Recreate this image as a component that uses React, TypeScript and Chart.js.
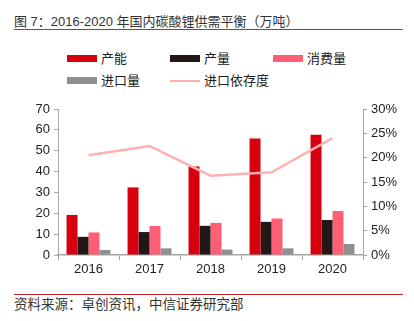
import React, { useEffect, useRef } from "react";
import { Chart, registerables } from "chart.js";

Chart.register(...registerables);

const years = ["2016", "2017", "2018", "2019", "2020"];
const capacity = [19.2, 32.4, 42.4, 55.8, 57.7];
const output = [8.7, 11.0, 14.0, 15.9, 16.8];
const consumption = [10.8, 13.9, 15.4, 17.5, 21.1];
const imports = [2.4, 3.2, 2.6, 3.2, 5.3];
const importRatio = [20.5, 22.4, 16.3, 17.0, 24.0];

const seriesNames = ["产能", "产量", "消费量", "进口量", "进口依存度"];
const seriesColors = ["#d7000f", "#231815", "#ff5f75", "#8f8f8f", "#ffb0b0"];

const leftMax = 70;
const leftStep = 10;
const rightMax = 30;
const rightStep = 5;

const titleText = "图 7：2016-2020 年国内碳酸锂供需平衡（万吨）";
const sourceText = "资料来源：卓创资讯，中信证券研究部";

const FONT = '"Liberation Sans", "Noto Sans CJK SC", Arial, sans-serif';
const AXIS = "#a6a6a6";

export default function App() {
  const ref = useRef<HTMLCanvasElement | null>(null);

  useEffect(() => {
    if (!ref.current) return;
    const barCommon = {
      categoryPercentage: 0.72,
      barPercentage: 1,
      borderWidth: 0,
      yAxisID: "y",
      order: 1,
    };
    const chart = new Chart(ref.current, {
      type: "bar",
      data: {
        labels: years,
        datasets: [
          { ...barCommon, label: seriesNames[0], data: capacity, backgroundColor: seriesColors[0] },
          { ...barCommon, label: seriesNames[1], data: output, backgroundColor: seriesColors[1] },
          { ...barCommon, label: seriesNames[2], data: consumption, backgroundColor: seriesColors[2] },
          { ...barCommon, label: seriesNames[3], data: imports, backgroundColor: seriesColors[3] },
          {
            type: "line",
            label: seriesNames[4],
            data: importRatio,
            yAxisID: "y1",
            borderColor: seriesColors[4],
            backgroundColor: seriesColors[4],
            borderWidth: 2.5,
            pointRadius: 0,
            tension: 0,
            order: 0,
          } as any,
        ],
      },
      options: {
        responsive: false,
        animation: false,
        layout: { padding: { top: 14, left: 0, right: 0, bottom: 0 } },
        plugins: { legend: { display: false }, tooltip: { enabled: false } },
        scales: {
          x: {
            type: "category",
            offset: true,
            grid: {
              display: true,
              offset: true,
              drawOnChartArea: false,
              drawTicks: true,
              tickLength: 5,
              color: AXIS,
            },
            border: { display: true, color: AXIS, width: 1.5 },
            ticks: { color: "#222", font: { family: FONT, size: 13 }, padding: 2 },
            afterFit: (s: any) => {
              s.height = 25;
            },
          },
          y: {
            position: "left",
            min: 0,
            max: leftMax,
            grid: { drawOnChartArea: false, drawTicks: true, tickLength: 4, color: AXIS },
            border: { display: true, color: AXIS, width: 1 },
            ticks: {
              stepSize: leftStep,
              color: "#222",
              font: { family: FONT, size: 13 },
              padding: 4,
            },
            afterFit: (s: any) => {
              s.width = 58;
            },
          },
          y1: {
            position: "right",
            min: 0,
            max: rightMax,
            grid: { drawOnChartArea: false, drawTicks: true, tickLength: 4, color: AXIS },
            border: { display: true, color: AXIS, width: 1 },
            ticks: {
              stepSize: rightStep,
              color: "#222",
              font: { family: FONT, size: 13 },
              padding: 4,
              callback: (v: any) => v + "%",
            },
            afterFit: (s: any) => {
              s.width = 51;
            },
          },
        },
      },
    });
    return () => chart.destroy();
  }, []);

  const legendPos = [
    { x: 67, y: 58.5 },
    { x: 170, y: 58.5 },
    { x: 273, y: 58.5 },
    { x: 67, y: 80.5 },
    { x: 170, y: 80.5 },
  ];

  return (
    <div
      style={{
        position: "absolute",
        left: 0,
        top: 0,
        width: 414,
        height: 321,
        background: "#fff",
        fontFamily: FONT,
        overflow: "hidden",
      }}
    >
      <div
        style={{
          position: "absolute",
          left: 14,
          top: 13,
          fontSize: 13,
          lineHeight: "18px",
          color: "#333",
          whiteSpace: "nowrap",
        }}
      >
        {titleText}
      </div>
      <div style={{ position: "absolute", left: 14, top: 29, width: 389, height: 1, background: "#c0282d" }} />
      {seriesNames.map((name, i) => {
        const p = legendPos[i];
        const isLine = i === 4;
        return (
          <React.Fragment key={name}>
            <div
              style={{
                position: "absolute",
                left: p.x,
                top: isLine ? p.y - 1 : p.y - 3.5,
                width: 30,
                height: isLine ? 2 : 7,
                background: seriesColors[i],
              }}
            />
            <div
              style={{
                position: "absolute",
                left: p.x + 34,
                top: p.y - 9,
                fontSize: 13,
                lineHeight: "18px",
                color: "#222",
                whiteSpace: "nowrap",
              }}
            >
              {name}
            </div>
          </React.Fragment>
        );
      })}
      <canvas
        ref={ref}
        width={414}
        height={185}
        style={{ position: "absolute", left: 0, top: 95, width: 414, height: 185 }}
      />
      <div style={{ position: "absolute", left: 14, top: 294, width: 389, height: 1, background: "#c0282d" }} />
      <div
        style={{
          position: "absolute",
          left: 14,
          top: 296,
          fontSize: 13.5,
          lineHeight: "18px",
          color: "#333",
          whiteSpace: "nowrap",
        }}
      >
        {sourceText}
      </div>
    </div>
  );
}
